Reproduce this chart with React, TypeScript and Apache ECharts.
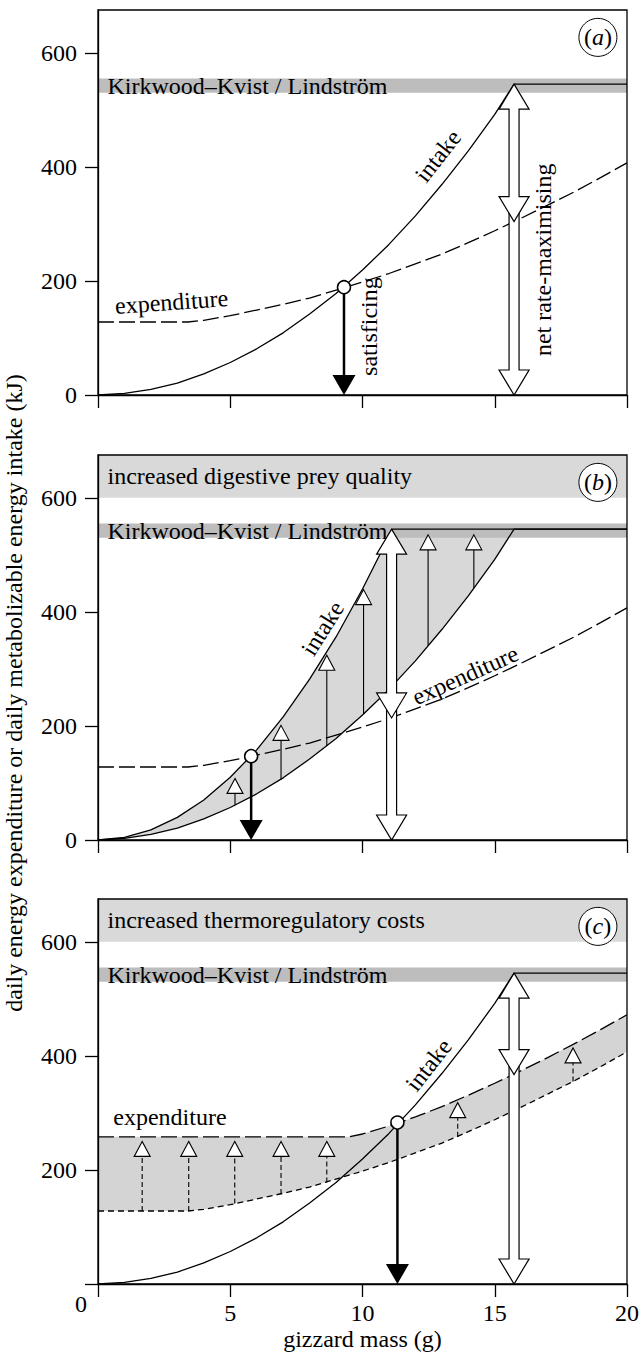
import React, { useEffect, useRef } from "react";
import * as echarts from "echarts";

const SERIF = '"Liberation Serif", "Times New Roman", Times, serif';

// ---- axes ----
const X_TICKS = [0, 5, 10, 15, 20];
const X_LABELS = [5, 10, 15, 20];
const Y_TICKS = [0, 200, 400, 600];
const Y_MAX = 675;
const X_TITLE = "gizzard mass (g)";
const Y_TITLE = "daily energy expenditure or daily metabolizable energy intake (kJ)";

// ---- curves [gizzard mass (g), kJ] ----
const intakeBase = [
  [0, 0], [1, 3], [2, 10], [3, 21], [4, 37], [5, 57], [6, 81], [7, 109], [8, 142], [9, 178],
  [10, 219], [11, 264], [12, 314], [13, 369], [14, 428], [15, 492], [15.73, 545], [20, 545],
];
const intakeHigh = [
  [0, 0], [1, 4.4], [2, 17.6], [3, 39.6], [4, 70], [5, 110], [6, 158], [7, 216], [8, 282],
  [9, 356], [10, 440], [11, 532], [11.13, 545], [20, 545],
];
const expenditure = [
  [0, 128], [3.4, 128], [4, 131], [5, 139], [6, 149], [7, 159], [8, 170], [9, 184], [10, 198],
  [11, 213], [12, 230], [13, 247], [14, 267], [15, 288], [16, 310], [17, 333], [18, 356], [19, 381], [20, 407],
];
const expenditureCold = [
  [0, 258], [9.5, 258], [10, 263], [11, 277], [12, 293], [13, 311], [14, 331], [15, 352],
  [16, 374], [17, 397], [18, 421], [19, 446], [20, 472],
];

// ---- bands [y0, y1] ----
const KK_BAND = [530, 555];
const KK_LABEL = "Kirkwood–Kvist / Lindström";
const TOP_BAND = [600, 675];
const TOP_BAND_LABELS = ["", "increased digestive prey quality", "increased thermoregulatory costs"];

// ---- markers ----
const PANEL_TAGS = ["a", "b", "c"];
const TAG_POS = [18.9, 627];
const satisficing = [[9.3, 189], [5.79, 147], [11.32, 283]];
// [x, intake cap, expenditure at x]
const netMax = [[15.73, 545, 304], [11.1, 545, 214], [15.73, 545, 367]];
// [x, from, to]
const preyArrows = [
  [5.18, 61, 108], [6.92, 106, 201], [8.65, 165, 324], [10.04, 221, 439], [12.48, 341, 535], [14.21, 442, 535],
];
const coldArrows = [
  [1.67, 128, 250], [3.43, 128, 250], [5.17, 141, 250], [6.92, 158, 250], [8.65, 178, 250], [13.6, 258, 318], [17.96, 355, 414],
];

// ---- annotations [x, y, rotation deg] ----
const annoTexts = [
  ["intake", "satisficing", "net rate-maximising", "expenditure"],
  ["intake", "expenditure"],
  ["intake", "expenditure"],
];
const annoPos = [
  [[12.85, 419, 52], [10.25, 120, 90], [16.82, 237, 90], [2.78, 163, 4]],
  [[8.49, 371, 58], [13.88, 289, 24]],
  [[12.5, 384, 52], [2.72, 292, 0]],
];

const GRID_TOPS = [10, 455, 899];
const GRID_H = 385;

function bandItem(y0: number, y1: number, label: string, color: string) {
  return (params: any, api: any) => {
    const tl = api.coord([0, y1]);
    const br = api.coord([20, y0]);
    return {
      type: "group",
      children: [
        { type: "rect", shape: { x: tl[0], y: tl[1], width: br[0] - tl[0], height: br[1] - tl[1] }, style: { fill: color } },
        {
          type: "text", x: tl[0] + 9.5, y: (tl[1] + br[1]) / 2,
          style: { text: label, fill: "#000", fontSize: 24, fontFamily: SERIF, align: "left", verticalAlign: "middle" },
        },
      ],
    };
  };
}

function fillBetween(upper: number[][], lower: number[][], color: string) {
  return (params: any, api: any) => ({
    type: "polygon",
    shape: { points: [...upper, ...lower.slice().reverse()].map((p) => api.coord(p)) },
    style: { fill: color },
  });
}

function hollowArrow(params: any, api: any) {
  const x = api.value(0);
  const top = api.coord([x, api.value(1)]);
  const mid = api.coord([x, api.value(2)]);
  const bot = api.coord([x, 0]);
  const cx = top[0];
  const HW = 15, HH = 25, SW = 5;
  const st = { fill: "#fff", stroke: "#000", lineWidth: 1.2 };
  const lt = mid[1] - HH + 10;
  const lower = [
    [cx - SW, lt], [cx - SW, bot[1] - HH], [cx - HW, bot[1] - HH], [cx, bot[1]],
    [cx + HW, bot[1] - HH], [cx + SW, bot[1] - HH], [cx + SW, lt],
  ];
  const upper = [
    [cx, top[1]], [cx + HW, top[1] + HH], [cx + SW, top[1] + HH], [cx + SW, mid[1] - HH],
    [cx + HW, mid[1] - HH], [cx, mid[1]], [cx - HW, mid[1] - HH], [cx - SW, mid[1] - HH],
    [cx - SW, top[1] + HH], [cx - HW, top[1] + HH],
  ];
  return {
    type: "group",
    children: [
      { type: "polygon", shape: { points: lower }, style: st },
      { type: "polygon", shape: { points: upper }, style: st },
    ],
  };
}

function solidArrow(params: any, api: any) {
  const x = api.value(0);
  const from = api.coord([x, api.value(1)]);
  const to = api.coord([x, 0]);
  const HW = 11.5, HH = 20;
  return {
    type: "group",
    children: [
      { type: "line", shape: { x1: from[0], y1: from[1], x2: to[0], y2: to[1] - HH + 1 }, style: { stroke: "#000", lineWidth: 2.5 } },
      { type: "polygon", shape: { points: [[to[0] - HW, to[1] - HH], [to[0] + HW, to[1] - HH], [to[0], to[1]]] }, style: { fill: "#000" } },
    ],
  };
}

function openArrow(dashed: boolean) {
  return (params: any, api: any) => {
    const x = api.value(0);
    const b = api.coord([x, api.value(1)]);
    const t = api.coord([x, api.value(2)]);
    const HW = 8, HH = 15;
    return {
      type: "group",
      children: [
        { type: "line", shape: { x1: b[0], y1: b[1], x2: t[0], y2: t[1] + HH }, style: { stroke: "#000", lineWidth: 1.1, lineDash: dashed ? [5, 3] : null } },
        { type: "polygon", shape: { points: [[t[0], t[1]], [t[0] - HW, t[1] + HH], [t[0] + HW, t[1] + HH]] }, style: { fill: "#fff", stroke: "#000", lineWidth: 1.1 } },
      ],
    };
  };
}

function annotations(panel: number) {
  return (params: any, api: any) => {
    const p = api.coord([api.value(0), api.value(1)]);
    return {
      type: "text", x: p[0], y: p[1], rotation: (api.value(2) * Math.PI) / 180,
      style: { text: annoTexts[panel][params.dataIndex], fill: "#000", fontSize: 24, fontFamily: SERIF, align: "center", verticalAlign: "middle" },
    };
  };
}

function tagItem(panel: number) {
  return (params: any, api: any) => {
    const p = api.coord([api.value(0), api.value(1)]);
    return {
      type: "group",
      children: [
        { type: "circle", shape: { cx: p[0], cy: p[1], r: 19 }, style: { fill: "#fff", stroke: "#000", lineWidth: 1 } },
        {
          type: "text", x: p[0], y: p[1],
          style: {
            text: "({i|" + PANEL_TAGS[panel] + "})", fill: "#000", fontSize: 24, fontFamily: SERIF, align: "center", verticalAlign: "middle",
            rich: { i: { fontStyle: "italic", fontSize: 24, fontFamily: SERIF, fill: "#000" } },
          },
        },
      ],
    };
  };
}

const solid = { color: "#000", width: 1.3 };
const longDash = { color: "#000", width: 1.3, type: [16, 5] };
const shortDash = { color: "#000", width: 1.3, type: [6, 4] };

function lineSeries(i: number, data: number[][], lineStyle: any) {
  return { type: "line", xAxisIndex: i, yAxisIndex: i, data, showSymbol: false, symbol: "none", lineStyle, z: 4, silent: true };
}
function custom(i: number, data: any[], renderItem: any, z: number) {
  return { type: "custom", xAxisIndex: i, yAxisIndex: i, data, renderItem, z, silent: true, clip: false };
}

function buildOption() {
  const series: any[] = [];
  const upperB = intakeHigh.filter((p) => p[0] <= 15.73).concat([[15.73, 545]]);
  const lowerB = intakeBase.filter((p) => p[0] <= 15.73);
  // fills
  series.push(custom(1, [[0, 0]], fillBetween(upperB, lowerB, "#d8d8d8"), 1));
  series.push(custom(2, [[0, 0]], fillBetween(expenditureCold, expenditure, "#d4d4d4"), 1));
  // bands
  for (let i = 0; i < 3; i++) {
    series.push(custom(i, [[0, KK_BAND[0], KK_BAND[1]]], bandItem(KK_BAND[0], KK_BAND[1], KK_LABEL, "#bdbdbd"), 2));
    if (i > 0) series.push(custom(i, [[0, TOP_BAND[0], TOP_BAND[1]]], bandItem(TOP_BAND[0], TOP_BAND[1], TOP_BAND_LABELS[i], "#d9d9d9"), 2));
  }
  // curves
  series.push(lineSeries(0, intakeBase, solid));
  series.push(lineSeries(0, expenditure, longDash));
  series.push(lineSeries(1, intakeBase, solid));
  series.push(lineSeries(1, intakeHigh, solid));
  series.push(lineSeries(1, expenditure, longDash));
  series.push(lineSeries(2, intakeBase, solid));
  series.push(lineSeries(2, expenditure, shortDash));
  series.push(lineSeries(2, expenditureCold, longDash));
  // arrows
  series.push(custom(1, preyArrows, openArrow(false), 5));
  series.push(custom(2, coldArrows, openArrow(true), 5));
  for (let i = 0; i < 3; i++) {
    series.push(custom(i, [netMax[i]], hollowArrow, 6));
    series.push(custom(i, [satisficing[i]], solidArrow, 6));
    series.push({
      type: "scatter", xAxisIndex: i, yAxisIndex: i, data: [satisficing[i]], symbol: "circle", symbolSize: 13,
      itemStyle: { color: "#fff", borderColor: "#000", borderWidth: 1.5, opacity: 1 }, z: 7, silent: true,
    });
    series.push(custom(i, annoPos[i], annotations(i), 8));
    series.push(custom(i, [TAG_POS], tagItem(i), 8));
  }

  const labelStyle = { color: "#000", fontSize: 24, fontFamily: SERIF };
  const axisLineStyle = { color: "#000", width: 1.3 };

  return {
    animation: false,
    backgroundColor: "#fff",
    textStyle: { fontFamily: SERIF },
    grid: GRID_TOPS.map((t) => ({
      left: 98, right: 14, top: t, height: GRID_H, show: true, borderColor: "#000", borderWidth: 1.3,
      backgroundColor: "transparent", containLabel: false, outerBoundsMode: "none", z: 9,
    })),
    xAxis: [0, 1, 2].map((i) => ({
      type: "value", gridIndex: i, min: X_TICKS[0], max: X_TICKS[X_TICKS.length - 1], interval: 5,
      axisLine: { show: true, onZero: false, lineStyle: axisLineStyle },
      axisTick: { show: true, inside: false, length: 13, customValues: X_TICKS, lineStyle: axisLineStyle },
      axisLabel: { show: i === 2, customValues: X_LABELS, margin: 17, ...labelStyle },
      splitLine: { show: false },
      name: i === 2 ? X_TITLE : "", nameLocation: "middle", nameGap: 43, nameTextStyle: labelStyle,
      z: 9,
    })),
    yAxis: [0, 1, 2].map((i) => ({
      type: "value", gridIndex: i, min: 0, max: Y_MAX, interval: 200,
      axisLine: { show: true, onZero: false, lineStyle: axisLineStyle },
      axisTick: { show: true, inside: false, length: 13, customValues: Y_TICKS, lineStyle: axisLineStyle },
      axisLabel: { show: true, customValues: i === 2 ? Y_TICKS.slice(1) : Y_TICKS, margin: 21, ...labelStyle },
      splitLine: { show: false },
      z: 9,
    })),
    graphic: [
      {
        type: "text", x: 14, y: 693, rotation: Math.PI / 2,
        style: { text: Y_TITLE, fill: "#000", fontSize: 24, fontFamily: SERIF, align: "center", verticalAlign: "middle" },
      },
      {
        type: "text", x: 81, y: 1304,
        style: { text: "0", fill: "#000", fontSize: 24, fontFamily: SERIF, align: "center", verticalAlign: "middle" },
      },
    ],
    series,
  };
}

export default function App() {
  const ref = useRef<HTMLDivElement>(null);
  useEffect(() => {
    if (!ref.current) return;
    const chart = echarts.init(ref.current, undefined, { renderer: "svg" });
    chart.setOption(buildOption() as any);
    return () => chart.dispose();
  }, []);
  return <div ref={ref} style={{ position: "absolute", left: 0, top: 0, width: 641, height: 1352, background: "#fff" }} />;
}
